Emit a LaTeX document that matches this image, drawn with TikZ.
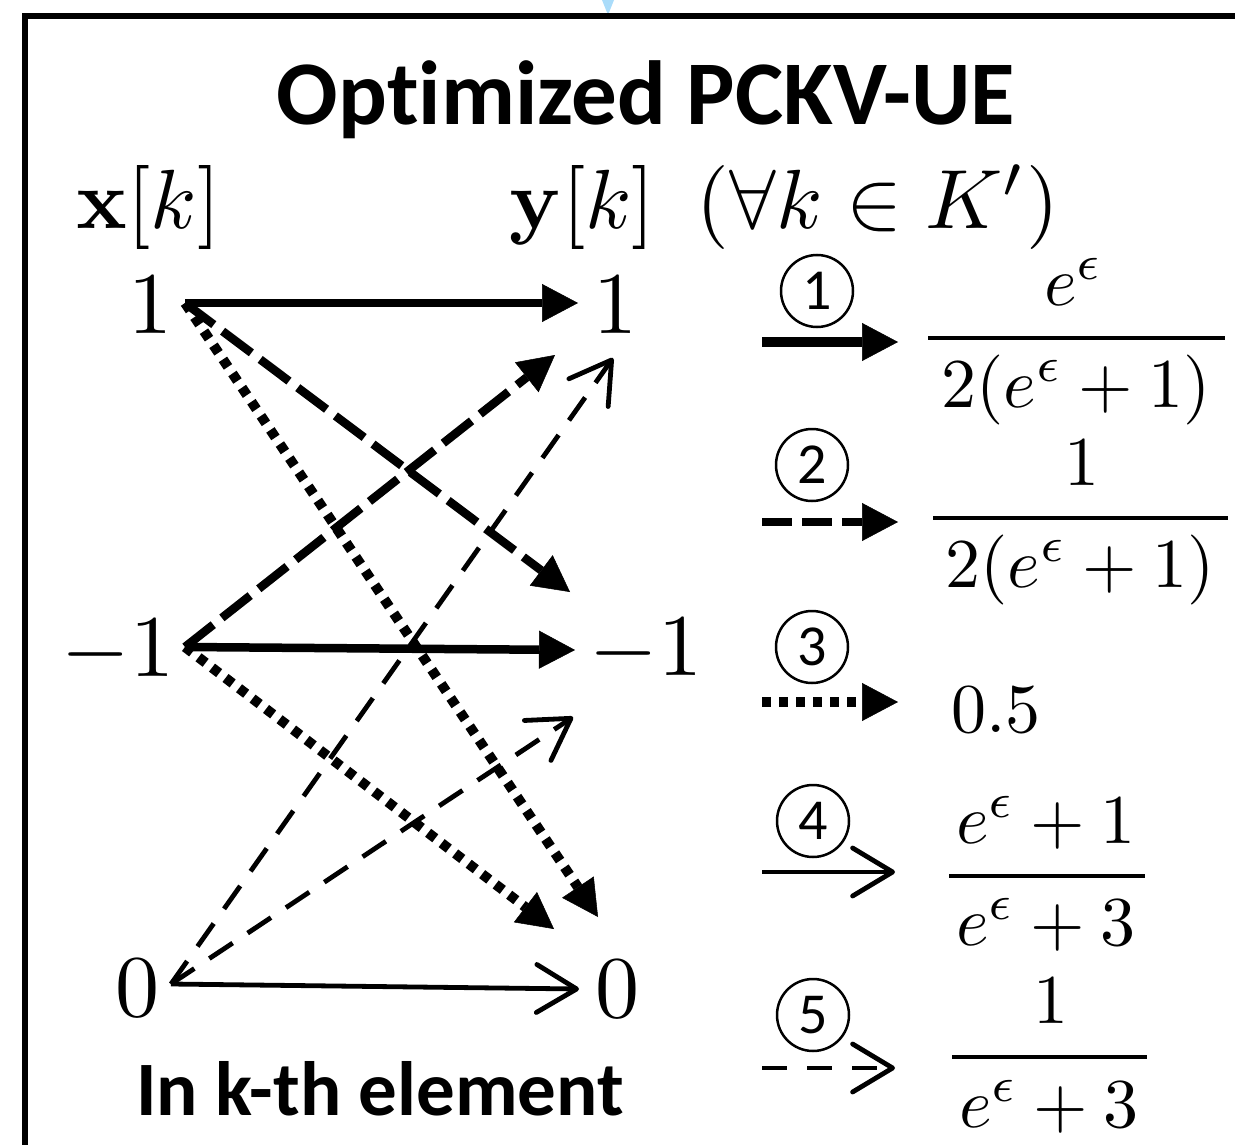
\documentclass[tikz,border=0pt]{standalone}
\usepackage[no-math]{fontspec}
\newfontfamily\calibri[Ligatures=NoCommon]{Carlito}
\usetikzlibrary{arrows.meta}
\definecolor{tipblue}{RGB}{170,220,250}
\tikzset{
  lbl/.style={anchor=base, inner sep=0pt, font=\fontsize{10}{12}\selectfont, scale=8.8},
  hdr/.style={anchor=base west, inner sep=0pt, font=\fontsize{10}{12}\selectfont, scale=8.4},
  fr/.style={anchor=base, inner sep=0pt, font=\fontsize{10}{12}\selectfont, scale=7},
  circnum/.style={circle, draw, line width=2.5pt, minimum size=72pt, inner sep=0pt, font=\calibri\fontsize{58}{60}\selectfont},
  fbar/.style={line width=4pt},
  filltip/.style={-{Triangle[length=36pt,width=38pt,line width=0.5pt]}},
  opentip/.style={-{Straight Barb[length=40pt,width=48pt,round]}},
  solidthick/.style={line width=8.5pt, filltip},
  dashthick/.style={line width=8.5pt, dash pattern=on 36pt off 11pt, filltip},
  dotthick/.style={line width=10pt, dash pattern=on 9pt off 8pt, filltip},
  solidthin/.style={line width=4.8pt, opentip},
  dashthin/.style={line width=4.8pt, dash pattern=on 28pt off 18pt, opentip},
}
\begin{document}
\begin{tikzpicture}[x=1pt,y=-1pt]
\useasboundingbox (0,0) rectangle (1235,1145);
% light-blue tip from above
\fill[tipblue] (602,0) -- (614,0) -- (608,15) -- cycle;
% frame
\draw[line width=6pt] (25,1200) -- (25,16) -- (1300,16);

% title and headers
\node[anchor=base, inner sep=0pt, font=\calibri\bfseries\fontsize{91}{100}\selectfont] (title) at (646,125) {Optimized PCKV-UE};
\node[hdr] (xk) at (75,228) {$\mathbf{x}[k]$};
\node[hdr] (yk) at (508,228) {$\mathbf{y}[k]\ \,(\forall k \in K')$};

% value nodes
\node[lbl] (x1) at (150,333) {$1$};
\node[lbl] (xm) at (118,676) {$-1$};
\node[lbl] (x0) at (137,1016) {$0$};
\node[lbl] (y1) at (615,333) {$1$};
\node[lbl] (ym) at (646,675) {$-1$};
\node[lbl] (y0) at (617,1017) {$0$};

\node[anchor=base, inner sep=0pt, font=\calibri\bfseries\fontsize{77}{85}\selectfont] (elem) at (380,1115) {In k-th element};

% connector end points
\coordinate (x1o) at (185,303);
\coordinate (xmo) at (185,647);
\coordinate (x0o) at (171,984);
\coordinate (y1i) at (578,303);
\coordinate (ymi) at (575,650);
\coordinate (y0i) at (579,989);
\coordinate (d1e) at (570,592);
\coordinate (d2e) at (555,355);
\coordinate (t1e) at (598,917);
\coordinate (t2e) at (554,929);
\coordinate (s1e) at (613,358);
\coordinate (s2e) at (573,717);

% connectors
\draw[dashthin] (x0o) -- (s1e);
\draw[dashthin] (x0o) -- (s2e);
\draw[dotthick] (x1o) -- (t1e);
\draw[dotthick] (xmo) -- (t2e);
\draw[dashthick] (x1o) -- (d1e);
\draw[dashthick] (xmo) -- (d2e);
\draw[solidthick] (x1o) -- (y1i);
\draw[solidthick] (xmo) -- (ymi);
\draw[solidthin] (x0o) -- (y0i);

% legend
\node[circnum] (c1) at (817,291) {1};
\node[circnum] (c2) at (812,465) {2};
\node[circnum] (c3) at (812,647) {3};
\node[circnum] (c4) at (813,821) {4};
\node[circnum] (c5) at (813,1015) {5};

\coordinate (l1a) at (762,342); \coordinate (l1b) at (898,342);
\coordinate (l2a) at (762,522); \coordinate (l2b) at (898,522);
\coordinate (l3a) at (762,702); \coordinate (l3b) at (898,702);
\coordinate (l4a) at (762,872); \coordinate (l4b) at (895,872);
\coordinate (l5a) at (762,1068); \coordinate (l5b) at (895,1068);
\draw[solidthick, line width=10pt] (l1a) -- (l1b);
\draw[dashthick, dash pattern=on 30pt off 10pt] (l2a) -- (l2b);
\draw[dotthick] (l3a) -- (l3b);
\draw[solidthin] (l4a) -- (l4b);
\draw[dashthin, dash pattern=on 25pt off 20pt] (l5a) -- (l5b);

% probabilities
\node[fr] (f1n) at (1074,305) {$e^{\epsilon}$};
\draw[fbar] (928,338) -- (1225,338);
\node[fr] (f1d) at (1076,407) {$2(e^{\epsilon}+1)$};

\node[fr] (f2n) at (1082,485) {$1$};
\draw[fbar] (933,518) -- (1228,518);
\node[fr] (f2d) at (1080,587) {$2(e^{\epsilon}+1)$};

\node[fr, anchor=base west] (half) at (950,732) {$0.5$};

\node[fr] (f4n) at (1046,843) {$e^{\epsilon}+1$};
\draw[fbar] (949,876) -- (1145,876);
\node[fr] (f4d) at (1046,945) {$e^{\epsilon}+3$};

\node[fr] (f5n) at (1051,1023) {$1$};
\draw[fbar] (952,1057) -- (1147,1057);
\node[fr] (f5d) at (1049,1127) {$e^{\epsilon}+3$};
\end{tikzpicture}
\end{document}
